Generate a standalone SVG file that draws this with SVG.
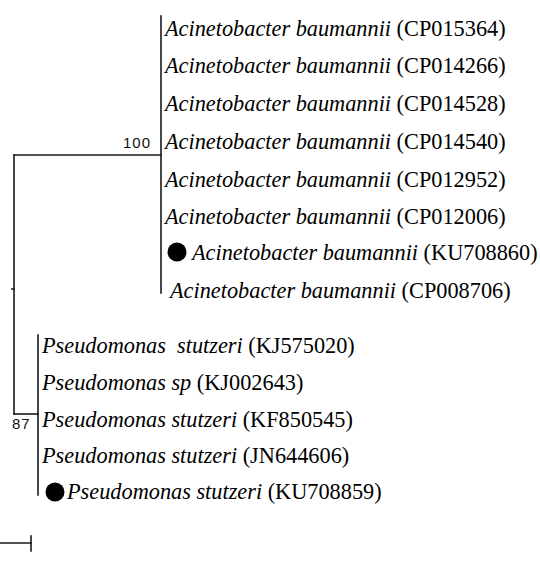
<svg xmlns="http://www.w3.org/2000/svg" width="540" height="570" viewBox="0 0 540 570">
  <style>
    .br { stroke: #1a1a1a; stroke-width: 1.6; fill: none; stroke-linecap: square; }
    .lbl { font-family: "Liberation Serif", "Times New Roman", serif; font-size: 22.3px; fill: #000; }
    .sp { font-style: italic; }
    .bs { font-family: "Liberation Sans", Arial, sans-serif; font-size: 15px; fill: #111; letter-spacing: 1px; }
    .dot { fill: #000; }
  </style>
  <rect width="540" height="570" fill="#fff"/>

  <!-- tree branches -->
  <g id="branches">
    <path class="br" d="M161,16 V293"/>
    <path class="br" d="M14,155 H161"/>
    <path class="br" d="M14,155 V414"/>
    <path class="br" d="M12,289 H14"/>
    <path class="br" d="M14,414 H38"/>
    <path class="br" d="M38,335 V495"/>
    <!-- scale bar -->
    <path class="br" d="M0,543 H31"/>
    <path class="br" d="M31,536 V551"/>
  </g>

  <!-- bootstrap values -->
  <g id="bootstrap">
    <text class="bs" x="123" y="148">100</text>
    <text class="bs" x="12" y="429">87</text>
  </g>

  <!-- Acinetobacter clade -->
  <g id="ab-CP015364"><text class="lbl" x="165" y="36"><tspan class="sp">Acinetobacter baumannii</tspan> (CP015364)</text></g>
  <g id="ab-CP014266"><text class="lbl" x="165" y="73"><tspan class="sp">Acinetobacter baumannii</tspan> (CP014266)</text></g>
  <g id="ab-CP014528"><text class="lbl" x="165" y="111"><tspan class="sp">Acinetobacter baumannii</tspan> (CP014528)</text></g>
  <g id="ab-CP014540"><text class="lbl" x="165" y="149"><tspan class="sp">Acinetobacter baumannii</tspan> (CP014540)</text></g>
  <g id="ab-CP012952"><text class="lbl" x="165" y="187"><tspan class="sp">Acinetobacter baumannii</tspan> (CP012952)</text></g>
  <g id="ab-CP012006"><text class="lbl" x="165" y="224"><tspan class="sp">Acinetobacter baumannii</tspan> (CP012006)</text></g>
  <g id="ab-KU708860">
    <circle class="dot" cx="177" cy="252" r="9.5"/>
    <text class="lbl" x="192" y="260"><tspan class="sp">Acinetobacter baumannii</tspan> (KU708860)</text>
  </g>
  <g id="ab-CP008706"><text class="lbl" x="170" y="298"><tspan class="sp">Acinetobacter baumannii</tspan> (CP008706)</text></g>

  <!-- Pseudomonas clade -->
  <g id="ps-KJ575020"><text class="lbl" x="42" y="353" xml:space="preserve"><tspan class="sp">Pseudomonas  stutzeri</tspan> (KJ575020)</text></g>
  <g id="ps-KJ002643"><text class="lbl" x="42" y="390"><tspan class="sp">Pseudomonas sp</tspan> (KJ002643)</text></g>
  <g id="ps-KF850545"><text class="lbl" x="42" y="427"><tspan class="sp">Pseudomonas stutzeri</tspan> (KF850545)</text></g>
  <g id="ps-JN644606"><text class="lbl" x="42" y="463"><tspan class="sp">Pseudomonas stutzeri</tspan> (JN644606)</text></g>
  <g id="ps-KU708859">
    <circle class="dot" cx="55" cy="492" r="9.5"/>
    <text class="lbl" x="67" y="499"><tspan class="sp">Pseudomonas stutzeri</tspan> (KU708859)</text>
  </g>
</svg>
